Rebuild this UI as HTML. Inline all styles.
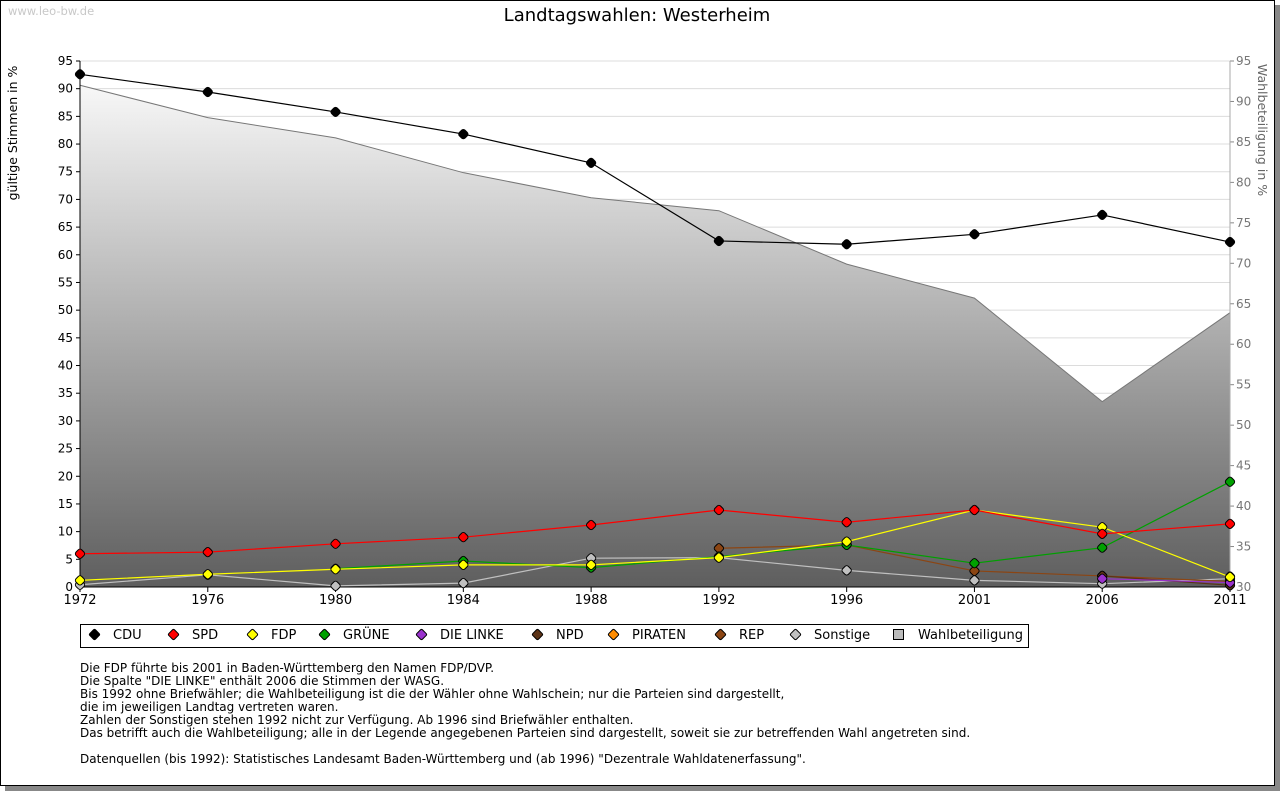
<!DOCTYPE html>
<html><head><meta charset="utf-8"><style>
body{margin:0;background:#fff;font-family:"DejaVu Sans","Liberation Sans",sans-serif;}
#frame{position:absolute;left:0;top:0;width:1273px;height:784px;border:1px solid #000;box-shadow:5px 5px 0 #888;background:#fff;}
.note{position:absolute;left:80px;font-size:12px;color:#000;line-height:13px;white-space:pre;}
svg text{font-family:"DejaVu Sans","Liberation Sans",sans-serif;}
</style></head><body>
<div id="frame"></div>
<svg id="chart" width="1280" height="791" style="position:absolute;left:0;top:0">
<defs><linearGradient id="ag" x1="0" y1="61" x2="0" y2="587" gradientUnits="userSpaceOnUse"><stop offset="0" stop-color="#ffffff"/><stop offset="1" stop-color="#5e5e5e"/></linearGradient></defs>
<text x="8" y="15" font-size="11.5" fill="#c8c8c8">www.leo-bw.de</text>
<text x="637" y="21" font-size="18" text-anchor="middle">Landtagswahlen: Westerheim</text>
<text transform="translate(17,133) rotate(-90)" font-size="12.5" text-anchor="middle">gültige Stimmen in %</text>
<text transform="translate(1258,130) rotate(90)" font-size="12.5" text-anchor="middle" fill="#666">Wahlbeteiligung in %</text>
<g id="grid"></g><g id="area"></g><g id="axes"></g><g id="series"></g>
</svg>
<div id="legend" style="position:absolute;left:80px;top:624px;width:947px;height:22px;border:1px solid #000;background:#fff;font-size:13px;"></div>
<div class="note" style="top:662px">Die FDP führte bis 2001 in Baden-Württemberg den Namen FDP/DVP.
Die Spalte "DIE LINKE" enthält 2006 die Stimmen der WASG.
Bis 1992 ohne Briefwähler; die Wahlbeteiligung ist die der Wähler ohne Wahlschein; nur die Parteien sind dargestellt,
die im jeweiligen Landtag vertreten waren.
Zahlen der Sonstigen stehen 1992 nicht zur Verfügung. Ab 1996 sind Briefwähler enthalten.
Das betrifft auch die Wahlbeteiligung; alle in der Legende angegebenen Parteien sind dargestellt, soweit sie zur betreffenden Wahl angetreten sind.

Datenquellen (bis 1992): Statistisches Landesamt Baden-Württemberg und (ab 1996) "Dezentrale Wahldatenerfassung".</div>
<script>
const years=["1972","1976","1980","1984","1988","1992","1996","2001","2006","2011"];
const cdu=[92.6,89.4,85.8,81.8,76.6,62.5,61.9,63.7,67.2,62.3];
const spd=[6.0,6.3,7.8,9.0,11.2,13.9,11.7,13.9,9.6,11.4];
const fdp=[1.2,2.3,3.2,4.0,4.0,5.3,8.2,13.9,10.8,1.8];
const gruene=[null,null,3.3,4.7,3.5,5.5,7.6,4.3,7.1,19.0];
const linke=[null,null,null,null,null,null,null,null,1.5,0.8];
const npd=[null,null,null,null,null,null,null,null,2.0,0.3];
const piraten=[null,null,null,null,null,null,null,null,null,1.9];
const rep=[null,null,null,null,null,7.0,7.6,2.9,2.0,1.0];
const sonst=[0.4,2.2,0.2,0.7,5.2,5.3,3.0,1.2,0.6,1.5];
const turnout=[92.0,88.0,85.5,81.2,78.1,76.5,69.9,65.7,52.9,63.9];
const leftTicks=[0,5,10,15,20,25,30,35,40,45,50,55,60,65,70,75,80,85,90,95];
const rightTicks=[30,35,40,45,50,55,60,65,70,75,80,85,90,95];
const NS="http://www.w3.org/2000/svg";
const X0=80,X1=1230,Y0=587,Y1=61;
const xs=i=>X0+(X1-X0)*i/(years.length-1);
const yl=v=>Y0-(Y0-Y1)*v/95;
const yr=v=>Y0-(Y0-Y1)*(v-30)/65;
function mk(tag,attrs,parent){const e=document.createElementNS(NS,tag);for(const k in attrs)e.setAttribute(k,attrs[k]);parent.appendChild(e);return e;}
const grid=document.getElementById('grid'),axes=document.getElementById('axes'),area=document.getElementById('area'),ser=document.getElementById('series');
leftTicks.forEach(t=>{
 const l=mk('line',{x1:X0,x2:X1,y1:yl(t),y2:yl(t),stroke:'#dcdcdc'},grid);
 
 
 mk('line',{x1:X0-4,x2:X0,y1:yl(t),y2:yl(t),stroke:'#000'},axes);
 const tx=mk('text',{x:X0-7,y:yl(t)+4,'font-size':12,'text-anchor':'end'},axes);tx.textContent=t;
 
 
});
rightTicks.forEach(t=>{
 mk('line',{x1:X1,x2:X1+4,y1:yr(t),y2:yr(t),stroke:'#888'},axes);
 const tx=mk('text',{x:X1+6,y:yr(t)+4,'font-size':12,fill:'#777'},axes);tx.textContent=t;
 
 
});
let pts=turnout.map((v,i)=>xs(i)+','+yr(v)).join(' ');
const ap=mk('polygon',{points:X0+','+Y0+' '+pts+' '+X1+','+Y0,fill:'url(#ag)',stroke:'none'},area);


const al=mk('polyline',{points:pts,fill:'none',stroke:'#777','stroke-width':1},area);


mk('line',{x1:X0,x2:X0,y1:Y1,y2:Y0,stroke:'#000'},axes);
mk('line',{x1:X1,x2:X1,y1:Y1,y2:Y0,stroke:'#aaa'},axes);
mk('line',{x1:X0,x2:X1,y1:Y0,y2:Y0,stroke:'#000'},axes);
years.forEach((y,i)=>{
 mk('line',{x1:xs(i),x2:xs(i),y1:Y0,y2:Y0+5,stroke:'#000'},axes);
 const tx=mk('text',{x:xs(i),y:Y0+17,'font-size':13,'text-anchor':'middle'},axes);tx.textContent=y;
 
 
});
const series=[["sonstige",sonst,"#c0c0c0"],["rep",rep,"#8b4513"],["npd",npd,"#5c3317"],["piraten",piraten,"#ff8c00"],["die-linke",linke,"#9932cc"],["gruene",gruene,"#00a000"],["fdp",fdp,"#ffff00"],["spd",spd,"#ff0000"],["cdu",cdu,"#000000"]];
function marker(x,y,c,g){return mk('rect',{x:x-4,y:y-4,width:8,height:8,rx:2.5,transform:`rotate(45 ${x} ${y})`,fill:c,stroke:'#000','stroke-width':1},g);}
series.forEach(([n,arr,c])=>{
 const g=mk('g',{},ser);
 
 
 const p=arr.map((v,i)=>v==null?null:xs(i)+','+yl(v)).filter(Boolean).join(' ');
 mk('polyline',{points:p,fill:'none',stroke:c,'stroke-width':1.2},g);
 arr.forEach((v,i)=>{if(v==null)return;const d=marker(xs(i),yl(v),c,g);
  
  });
});
const leg=[["CDU","#000",9],["SPD","#f00",88],["FDP","#ff0",167],["GRÜNE","#00a000",239],["DIE LINKE","#9932cc",336],["NPD","#5c3317",452],["PIRATEN","#ff8c00",528],["REP","#8b4513",635],["Sonstige","#c0c0c0",710],["Wahlbeteiligung","#bbb",812]];
const L=document.getElementById('legend');
leg.forEach(([t,c,x],i)=>{
 const e=document.createElement('div');
 
 
 e.style.cssText=`position:absolute;left:${x}px;top:3px;white-space:nowrap;`;
 const m=i==9?`<span style="display:inline-block;width:9px;height:9px;background:${c};border:1px solid #000;vertical-align:-1px;margin-right:14px"></span>`:`<span style="display:inline-block;width:7px;height:7px;background:${c};border:1px solid #000;border-radius:2px;transform:rotate(45deg);vertical-align:0px;margin-right:14px"></span>`;
 e.innerHTML=m+t;L.appendChild(e);
});
</script>
</body></html>
